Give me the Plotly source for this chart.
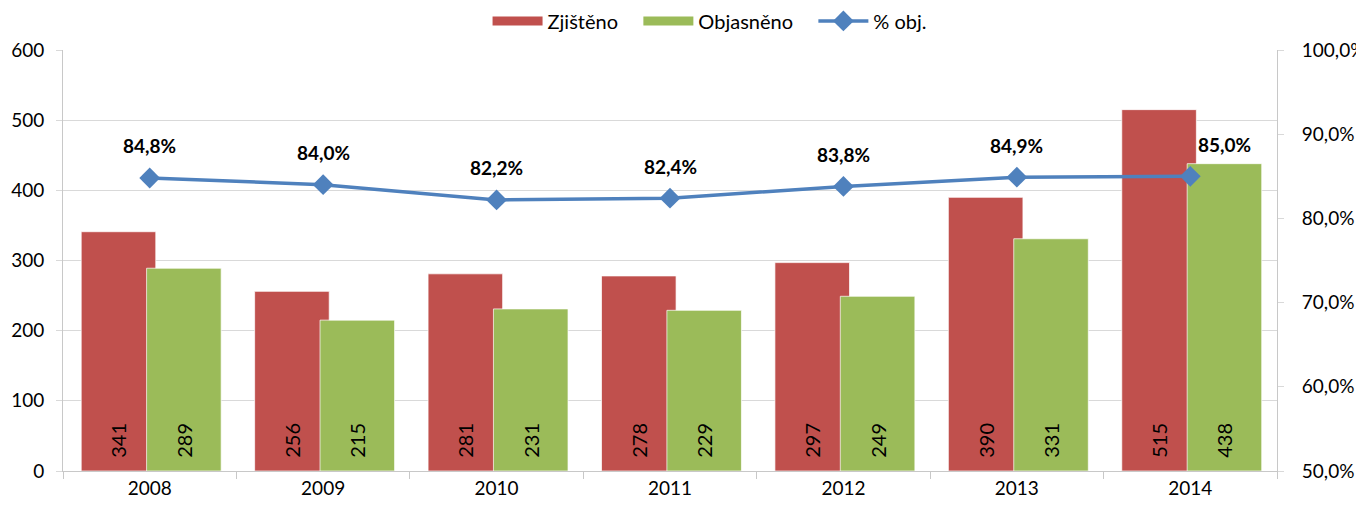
import plotly.graph_objects as go

years = ["2008", "2009", "2010", "2011", "2012", "2013", "2014"]
zjisteno = [341, 256, 281, 278, 297, 390, 515]
objasneno = [289, 215, 231, 229, 249, 331, 438]
pct_obj = [84.8, 84.0, 82.2, 82.4, 83.8, 84.9, 85.0]

FONT = "Lato, Carlito, Calibri, sans-serif"
RED = "#C0504D"
GREEN = "#9BBB59"
BLUE = "#4F81BD"
GRID = "#D9D9D9"
AXIS = "#C8C8C8"
PAD = "\u00a0\u00a0"

fig = go.Figure()

fig.add_trace(go.Bar(
    x=years, y=zjisteno, name="Zjištěno", showlegend=False,
    marker=dict(color=RED, line=dict(color="rgba(255,255,255,0.7)", width=1)),
    width=0.43, offset=-0.395,
    text=[PAD + str(v) for v in zjisteno], textposition="inside",
    insidetextanchor="start", textangle=-90, constraintext="none",
    textfont=dict(family=FONT, size=20, color="black"),
))
fig.add_trace(go.Bar(
    x=years, y=objasneno, name="Objasněno", showlegend=False,
    marker=dict(color=GREEN, line=dict(color="rgba(255,255,255,0.7)", width=1)),
    width=0.43, offset=-0.018,
    text=[PAD + str(v) for v in objasneno], textposition="inside",
    insidetextanchor="start", textangle=-90, constraintext="none",
    textfont=dict(family=FONT, size=20, color="black"),
))

# legend proxies (wide rectangles like the original), on hidden axes
fig.add_trace(go.Scatter(x=[None], y=[None], name="Zjištěno\u00a0\u00a0\u00a0", mode="lines",
                         xaxis="x2", yaxis="y3",
                         line=dict(color=RED, width=9)))
fig.add_trace(go.Scatter(x=[None], y=[None], name="Objasněno\u00a0\u00a0\u00a0", mode="lines",
                         xaxis="x2", yaxis="y3",
                         line=dict(color=GREEN, width=9)))

fig.add_trace(go.Scatter(
    x=years, y=pct_obj, name="% obj.", yaxis="y2",
    mode="lines+markers",
    line=dict(color=BLUE, width=3.5),
    marker=dict(symbol="diamond", size=16, color=BLUE),
    cliponaxis=False,
))

labels = [f"{v:.1f}%".replace(".", ",") for v in pct_obj]
for i, (v, t) in enumerate(zip(pct_obj, labels)):
    fig.add_annotation(
        x=i, y=v, xref="x", yref="y2", text="<b>" + t + "</b>",
        showarrow=False, yshift=32, xshift=(34 if i == len(years) - 1 else 0),
        font=dict(family=FONT, size=19, color="black"),
    )

fig.update_layout(
    width=1356, height=498,
    margin=dict(l=55, r=87, t=42, b=35, autoexpand=False),
    paper_bgcolor="white", plot_bgcolor="white",
    barmode="overlay",
    separators=", ",
    font=dict(family=FONT, size=19, color="black"),
    showlegend=True,
    legend=dict(orientation="h", x=0.533, xanchor="center", y=1.069, yanchor="middle",
                font=dict(family=FONT, size=20), traceorder="normal",
                itemwidth=50),
    xaxis=dict(
        type="category", categoryorder="array", categoryarray=years,
        range=[-0.5, len(years) - 0.5],
        showgrid=False, showline=True, linecolor=AXIS, linewidth=1,
        ticks="outside", tickson="boundaries", ticklen=7, tickcolor=AXIS,
        tickfont=dict(family=FONT, size=19),
    ),
    xaxis2=dict(overlaying="x", visible=False, range=[0, 1]),
    yaxis3=dict(overlaying="y", visible=False, range=[0, 1]),
    yaxis=dict(
        range=[0, 600], dtick=100, showgrid=True, gridcolor=GRID, gridwidth=1,
        showline=True, linecolor=AXIS, linewidth=1, zeroline=False,
        ticks="outside", ticklen=6, tickcolor=GRID,
        tickfont=dict(family=FONT, size=19), ticklabelstandoff=8,
    ),
    yaxis2=dict(
        range=[50, 100], dtick=10, overlaying="y", side="right",
        showgrid=False, showline=True, linecolor=AXIS, linewidth=1,
        ticks="outside", ticklen=6, tickcolor=GRID,
        tickformat=".1f", ticksuffix="%", zeroline=False,
        tickfont=dict(family=FONT, size=19), ticklabelstandoff=14,
    ),
)

fig.write_html("out.html")
